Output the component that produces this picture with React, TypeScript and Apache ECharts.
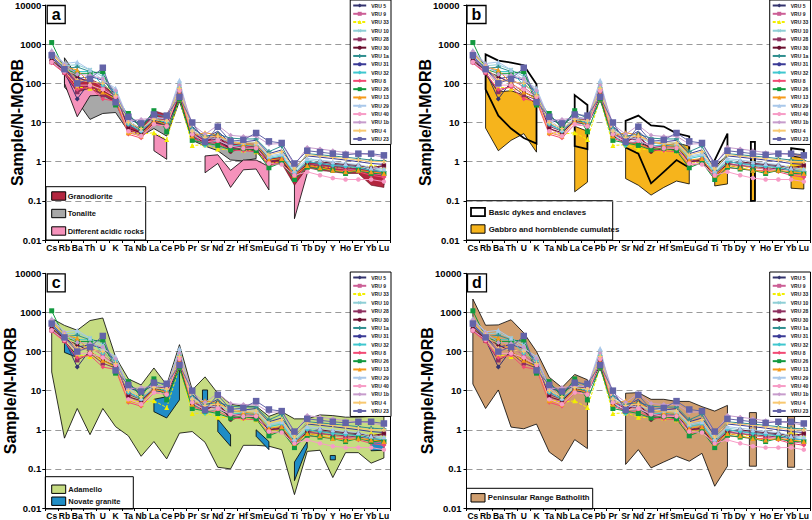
import React, { useEffect, useRef } from "react";
import * as echarts from "echarts";

const elements = ["Cs","Rb","Ba","Th","U","K","Ta","Nb","La","Ce","Pb","Pr","Sr","Nd","Zr","Hf","Sm","Eu","Gd","Ti","Tb","Dy","Y","Ho","Er","Yb","Lu"];
const yTickLabels = ["0.01", "0.1", "1", "10", "100", "1000", "10000"];
const panelTags = ["a", "b", "c", "d"];
const sampleNames = ["VRU 5","VRU 9","VRU 33","VRU 10","VRU 28","VRU 30","VRU 1a","VRU 31","VRU 32","VRU 8","VRU 26","VRU 13","VRU 29","VRU 40","VRU 1b","VRU 4","VRU 23"];

const VRU_5 = [380,200,40,110,100,50,9,6.5,10,9,37,5,4,3.5,2.2,2.6,2.5,1.0,1.2,0.45,1.0,0.9,0.85,0.8,0.75,0.6,0.55];
const VRU_9 = [450,250,110,130,80,45,7,5,12,10,70,6,3.5,4,2.5,2.5,2.2,1.0,1.1,0.5,0.9,0.8,0.7,0.65,0.6,0.5,0.45];
const VRU_33 = [400,220,80,75,60,40,6,5,5.5,3.7,40,2.6,2.7,2.1,2.0,2.0,1.8,0.9,1.0,0.45,0.8,0.75,0.7,0.7,0.7,0.8,0.75];
const VRU_10 = [600,280,300,220,150,60,10,6,13,11,100,6,3.8,4.2,3,2.8,2.8,1.3,1.5,0.55,1.1,1.0,0.9,0.85,0.8,0.65,0.6];
const VRU_28 = [350,190,60,90,50,38,8,6,12,12,55,5,3.5,4.5,2.2,2.3,2.0,1.0,1.0,0.45,0.85,0.8,0.75,0.7,0.65,0.6,0.8];
const VRU_30 = [400,210,150,100,60,42,7,5.5,11,10,45,4.5,3.0,5,1.8,2.2,2.0,1.0,1.1,0.4,0.9,1.0,0.9,0.85,0.8,0.7,0.8];
const VRU_1a = [500,240,260,200,180,50,15,8,18,13,60,7,4.5,5,4,3.8,3.8,1.8,2.5,0.6,1.6,1.5,1.4,1.3,1.2,1.1,1.05];
const VRU_31 = [450,220,130,150,120,55,12,9,14,12,50,8,4,6,3,3.2,3.5,1.6,2.0,0.7,1.4,1.3,1.2,1.1,1.0,0.9,0.85];
const VRU_32 = [480,260,200,200,90,60,9,6,12,10,80,5,2.6,3.5,2.5,2.7,2.5,1.2,1.4,0.5,1.0,0.9,0.8,0.75,0.7,0.6,0.55];
const VRU_8 = [330,180,70,80,40,35,5,4,9,8,60,4,3,3,2,1.9,1.8,0.8,0.9,0.4,0.7,0.65,0.6,0.6,0.55,0.45,0.4];
const VRU_26 = [1100,230,180,180,200,28,17,7,20,5.8,40,3.5,3.0,2.6,2.0,2.2,1.9,0.7,0.95,0.35,0.72,0.65,0.6,0.5,0.6,0.5,0.5];
const VRU_13 = [600,260,220,100,60,40,5.5,4.5,11,9,55,4.5,5.5,4.8,3.2,2.8,2.6,1.1,1.2,0.45,0.8,0.7,0.6,0.55,0.6,0.55,0.5];
const VRU_29 = [700,320,350,220,120,75,12,6.5,14,12,120,6.5,4,4,3.5,3.2,3.0,1.4,1.6,0.6,1.2,1.1,1.0,0.9,0.85,0.7,0.65];
const VRU_40 = [350,200,90,90,70,45,6,4.5,9,8,65,5,3.2,3.5,2.5,2.2,2.2,0.9,0.85,0.45,0.55,0.45,0.38,0.35,0.35,0.35,0.31];
const VRU_1b = [650,300,170,160,130,65,11,12,13,13,90,9,5,8.5,4.7,4.4,4.5,2.8,2.9,0.8,2.3,2.1,1.9,1.7,1.6,1.5,1.3];
const VRU_4 = [550,270,120,110,100,50,10,7,12,11,75,6,4.2,4.5,3.2,3.0,3.0,1.5,1.8,0.65,1.5,1.4,1.3,1.2,1.1,1.0,1.0];
const VRU_23 = [520,230,100,130,250,33,14,9.5,16,15,45,10,3.2,7.8,3.3,3.6,5.4,3.3,3.0,0.9,1.9,1.75,1.6,1.5,1.6,1.6,1.45];
const sampleValues = [VRU_5,VRU_9,VRU_33,VRU_10,VRU_28,VRU_30,VRU_1a,VRU_31,VRU_32,VRU_8,VRU_26,VRU_13,VRU_29,VRU_40,VRU_1b,VRU_4,VRU_23];

// Reference fields: each piece starts at an element; upper/lower values for consecutive elements
const tonaliteField = [
  { start: "Rb", upper: [450,150,60,60,45,10,7,12,10,50,5,4,4,2.5,2.5,2.5], lower: [80,35,12,17,18,6,4.5,7,4.5,35,3.5,2.5,1.9,1.1,1.05,1.2] },
];
const acidicField = [
  { start: "Rb", upper: [200,110,100,90,55], lower: [100,14,48,50,45] },
  { start: "La", upper: [5.2,3.5], lower: [1.9,1.15] },
  { start: "Sr", upper: [1.4,1.5,0.6,1.1,1.1,0.75], lower: [0.52,0.9,0.22,0.62,0.65,0.19] },
  { start: "Ti", upper: [0.35,0.7], lower: [0.035,0.5] },
  { start: "Yb", upper: [0.5,0.45], lower: [0.3,0.25] },
];
const granodioriteField = [
  { start: "Rb", upper: [250,120,130,90,50,9,7,20,16,60,6,4,5,3,3,3,1.2,1.3,0.5,1.0,0.9,0.8,0.75,0.7,0.6,0.55], lower: [170,60,75,50,32,6,5,9,8,40,4,3,3,2,2,1.8,0.8,0.9,0.25,0.7,0.6,0.55,0.5,0.5,0.25,0.22] },
];
const gabbroField = [
  { start: "Rb", upper: [170,60,65,50,30], lower: [7.2,1.9,3.5,5.2,1.75] },
  { start: "La", upper: [8,6], lower: [0.17,0.3] },
  { start: "Sr", upper: [3,3,2.4,2.5,3,2.5], lower: [0.37,0.25,0.14,0.22,0.32,0.27] },
  { start: "Ti", upper: [0.5,1.0], lower: [0.24,0.27] },
  { start: "Y", upper: [1.5], lower: [0.1] },
  { start: "Yb", upper: [1.6,1.5], lower: [0.21,0.2] },
];
const basicDykesField = [
  { start: "Rb", upper: [550,380,340,290,95], lower: [70,15,7,4,2.9] },
  { start: "La", upper: [50,28], lower: [2.5,2.1] },
  { start: "Sr", upper: [11,15,8.4,7.9,5.3,4.4], lower: [2.3,1.6,0.28,0.55,1.1,0.7] },
  { start: "Ti", upper: [1.1,5.2], lower: [0.7,1.45] },
  { start: "Y", upper: [3.2], lower: [0.1] },
  { start: "Yb", upper: [2.2,2.0], lower: [1.4,1.3] },
];
const adamelloField = [
  { start: "Cs",
    upper: [700,466,350,620,720,73,20,14,38,14,150,10.4,22.5,8.5,4.5,4,4,2.2,2.9,1.9,1.9,2.4,2.3,2.1,2.1,2.2,2.2],
    lower: [30,0.61,3.5,0.75,3.5,1.2,0.7,0.21,0.5,0.18,0.82,0.9,0.48,0.11,0.1,0.4,0.4,0.38,0.31,0.022,0.28,0.3,0.06,0.26,0.26,0.14,0.19] },
];
const novateField = [
  { start: "Rb", upper: [180,80], lower: [95,70] },
  { start: "La", upper: [6,7,37], lower: [2.9,2.0,5.8] },
  { start: "Sr", upper: [10.4], lower: [5.3] },
  { start: "Nd", upper: [1.87,0.75], lower: [0.9,0.38] },
  { start: "Sm", upper: [1.0,0.5], lower: [0.68,0.31] },
  { start: "Ti", upper: [0.15,0.5], lower: [0.05,0.35] },
  { start: "Y", upper: [0.22], lower: [0.17] },
  { start: "Yb", upper: [0.5,0.55], lower: [0.29,0.3] },
];
const peninsularField = [
  { start: "Cs", upper: [2200,470,480,650,300,100,22,12,26,19], lower: [14.8,3.5,10.4,1.17,1.06,1.4,0.27,0.157,0.56,0.33] },
  { start: "Sr", upper: [8.6,8.9,6,6,5.3,5.3,3.9,3.0,4.2], lower: [0.13,0.31,0.106,0.15,0.21,0.157,0.25,0.036,0.117] },
  { start: "Y", upper: [2.75], lower: [0.117] },
  { start: "Yb", upper: [5.3], lower: [0.11] },
];

const FONT = "Liberation Sans, Arial, Helvetica, sans-serif";
const PLUS = "path://M-1,-0.3L-0.3,-0.3L-0.3,-1L0.3,-1L0.3,-0.3L1,-0.3L1,0.3L0.3,0.3L0.3,1L-0.3,1L-0.3,0.3L-1,0.3Z";

const sampleStyles = [
  { color: "#34346e", symbol: "diamond", size: 5 },
  { color: "#cc5f96", symbol: "rect", size: 4.5 },
  { color: "#f2ee00", symbol: "triangle", size: 5, dash: true },
  { color: "#8fcfd6", symbol: PLUS, size: 5, rotate: 45 },
  { color: "#8e2f5f", symbol: "rect", size: 4.5 },
  { color: "#6a0f2e", symbol: "circle", size: 4 },
  { color: "#2f8f8f", symbol: PLUS, size: 5 },
  { color: "#3a3a96", symbol: "none", size: 0 },
  { color: "#3fc7cf", symbol: "diamond", size: 5 },
  { color: "#f24a74", symbol: "diamond", size: 4.5 },
  { color: "#12993f", symbol: "rect", size: 5 },
  { color: "#f59a1a", symbol: "triangle", size: 5 },
  { color: "#a9c8ea", symbol: "triangle", size: 5 },
  { color: "#f79cc6", symbol: "circle", size: 4.5 },
  { color: "#c79ccc", symbol: "diamond", size: 5 },
  { color: "#f8c870", symbol: PLUS, size: 4.5 },
  { color: "#6464a8", symbol: "rect", size: 6.5 },
];

const layout = [
  { left: 45.3, top: 5, width: 345, height: 235, nameGap: 20, labelMargin: 4, legendRight: 421, legendTop: 0, tagLeft: 46.7, tagTop: 5 },
  { left: 466.5, top: 5, width: 344.5, height: 235, nameGap: 33, labelMargin: 7, legendRight: 1.5, legendTop: 0, tagLeft: 466.5, tagTop: 5 },
  { left: 45.3, top: 273.3, width: 345, height: 235.7, nameGap: 26.5, labelMargin: 4, legendRight: 421, legendTop: 272, tagLeft: 46.7, tagTop: 273.3 },
  { left: 466.5, top: 273.3, width: 344, height: 235.7, nameGap: 31.5, labelMargin: 5, legendRight: 1.5, legendTop: 272, tagLeft: 467, tagTop: 273.3 },
];

type Piece = { start: string; upper: number[]; lower: number[] };

function fieldSeries(pieces: Piece[], gi: number, fill: string, stroke: string, lw: number, barFrac: number) {
  return {
    type: "custom",
    xAxisIndex: gi,
    yAxisIndex: gi,
    z: 1,
    silent: true,
    data: pieces.map((p) => [elements.indexOf(p.start), p.upper[0]]),
    renderItem: (params: any, api: any) => {
      const p = pieces[params.dataIndex];
      const s = elements.indexOf(p.start);
      const band = api.size([1, 0], [s, p.upper[0]])[0];
      let pts: number[][];
      if (p.upper.length === 1) {
        const t = api.coord([s, p.upper[0]]);
        const b = api.coord([s, p.lower[0]]);
        const hw = (band * barFrac) / 2;
        pts = [[t[0] - hw, t[1]], [t[0] + hw, t[1]], [b[0] + hw, b[1]], [b[0] - hw, b[1]]];
      } else {
        const up = p.upper.map((v, k) => api.coord([s + k, v]));
        const lo = p.lower.map((v, k) => api.coord([s + k, v])).reverse();
        pts = up.concat(lo);
      }
      return { type: "polygon", shape: { points: pts }, style: { fill, stroke, lineWidth: lw, lineJoin: "miter" } };
    },
  };
}

function legendBox(x: number, y: number, w: number, h: number, swX: number, txtX: number, fs: number, entries: any[]) {
  const children: any[] = [
    { type: "rect", shape: { x, y, width: w, height: h }, style: { fill: "#fff", stroke: "#000", lineWidth: 1 } },
  ];
  entries.forEach((e) => {
    children.push({ type: "rect", shape: { x: swX, y: e.cy - 4.2, width: 14, height: 8.4 }, style: { fill: e.fill, stroke: "#000", lineWidth: e.lw || 1 } });
    children.push({ type: "text", style: { x: txtX, y: e.cy, text: e.label, fill: "#111", font: `bold ${fs}px ${FONT}`, verticalAlign: "middle", align: "left" } });
  });
  return { type: "group", z: 50, children };
}

export default function App() {
  const ref = useRef<HTMLDivElement>(null);
  useEffect(() => {
    document.body.style.margin = "0";
    const chart = echarts.init(ref.current!, null, { renderer: "svg" });
    const grids = layout.map((l) => ({ left: l.left, top: l.top, width: l.width, height: l.height, containLabel: false }));
    const xAxes = layout.map((_, i) => ({
      type: "category",
      gridIndex: i,
      data: elements,
      boundaryGap: true,
      axisLine: { show: true, lineStyle: { color: "#000", width: 1 } },
      axisTick: { show: true, length: 3, lineStyle: { color: "#000" } },
      axisLabel: { interval: 0, fontSize: 8.5, fontWeight: "bold", color: "#000", margin: 3, fontFamily: FONT },
      splitLine: { show: false },
    }));
    const yLeft = layout.map((l, i) => ({
      type: "log",
      logBase: 10,
      gridIndex: i,
      min: 0.01,
      max: 10000,
      splitNumber: 6,
      name: "Sample/N-MORB",
      nameLocation: "middle",
      nameGap: l.nameGap,
      nameMoveOverlap: false,
      nameTextStyle: { fontSize: 16, fontWeight: "bold", color: "#000", fontFamily: FONT },
      axisLine: { show: true, lineStyle: { color: "#000", width: 1 } },
      axisTick: { show: true, length: 3, lineStyle: { color: "#000" } },
      axisLabel: {
        fontSize: 9.5, fontWeight: "bold", color: "#000", margin: l.labelMargin, fontFamily: FONT,
        formatter: (v: number) => yTickLabels[Math.round(Math.log10(v)) + 2] ?? "",
      },
      splitLine: { show: true, showMinLine: false, showMaxLine: false, lineStyle: { color: "#9a9a9a", width: 1.1, type: [6, 4] } },
      minorTick: { show: false },
    }));
    const yRight = layout.map((_, i) => ({
      type: "value", gridIndex: i, position: "right", min: 0, max: 1,
      axisLine: { show: true, onZero: false, lineStyle: { color: "#000", width: 1 } },
      axisTick: { show: false }, axisLabel: { show: false }, splitLine: { show: false },
    }));

    const series: any[] = [];
    series.push(fieldSeries(tonaliteField, 0, "#a8a8a8", "#000", 0.8, 0.3));
    series.push(fieldSeries(acidicField, 0, "#f592bb", "#000", 0.8, 0.3));
    series.push(fieldSeries(granodioriteField, 0, "#b3263f", "#5a0f1c", 0.6, 0.3));
    series.push(fieldSeries(gabbroField, 1, "#f6b41c", "#000", 0.8, 0.32));
    series.push(fieldSeries(basicDykesField, 1, "none", "#000", 1.8, 0.32));
    series.push(fieldSeries(adamelloField, 2, "#c6dc82", "#000", 0.8, 0.3));
    series.push(fieldSeries(novateField, 2, "#1f8dc6", "#000", 0.8, 0.4));
    series.push(fieldSeries(peninsularField, 3, "#d09f70", "#000", 0.8, 0.55));
    layout.forEach((_, gi) => {
      sampleNames.forEach((name, si) => {
        const st: any = sampleStyles[si];
        series.push({
          type: "line",
          name,
          xAxisIndex: gi,
          yAxisIndex: gi,
          data: sampleValues[si],
          symbol: st.symbol,
          symbolSize: st.size,
          symbolRotate: st.rotate || 0,
          showSymbol: st.symbol !== "none",
          z: 3,
          color: st.color,
          itemStyle: { color: st.color },
          lineStyle: { color: st.color, width: 1, type: st.dash ? [3, 1.5] : "solid" },
          emphasis: { disabled: true },
        });
      });
    });

    const legends = layout.map((l) => ({
      data: sampleNames,
      orient: "vertical",
      right: l.legendRight,
      top: l.legendTop,
      itemWidth: 13,
      itemHeight: 5,
      itemGap: 3.3,
      padding: [3, 2, 3, 2],
      borderColor: "#000",
      borderWidth: 1,
      backgroundColor: "#fff",
      selectedMode: false,
      textStyle: { fontSize: 5, fontWeight: "bold", color: "#222", fontFamily: FONT },
    }));

    const titles = layout.map((l, i) => ({
      text: panelTags[i],
      left: l.tagLeft,
      top: l.tagTop,
      padding: [1, 5, 1, 5],
      borderColor: "#000",
      borderWidth: 1.3,
      backgroundColor: "#fff",
      textStyle: { fontSize: 16, fontWeight: "bold", color: "#000", fontFamily: FONT, lineHeight: 17 },
    }));

    const graphic = [
      legendBox(46, 186.7, 99.7, 53.3, 51.7, 67.7, 7.5, [
        { label: "Granodiorite", fill: "#b3263f", cy: 196 },
        { label: "Tonalite", fill: "#a8a8a8", cy: 213.5 },
        { label: "Different acidic rocks", fill: "#f592bb", cy: 231 },
      ]),
      legendBox(466.5, 200.7, 146.2, 39.3, 471, 488.7, 7.9, [
        { label: "Basic dykes and enclaves", fill: "#fff", cy: 212, lw: 1.8 },
        { label: "Gabbro and hornblende cumulates", fill: "#f6b41c", cy: 229 },
      ]),
      legendBox(45.3, 476.7, 88, 32.3, 51.7, 68.3, 7.5, [
        { label: "Adamello", fill: "#c6dc82", cy: 489.2 },
        { label: "Novate granite", fill: "#1f8dc6", cy: 501.2 },
      ]),
      legendBox(466.5, 488.3, 126.2, 20.7, 471, 487.7, 7.8, [
        { label: "Peninsular Range Batholith", fill: "#d09f70", cy: 497.8 },
      ]),
    ];

    chart.setOption({
      animation: false,
      backgroundColor: "#fff",
      textStyle: { fontFamily: FONT },
      title: titles,
      grid: grids,
      xAxis: xAxes,
      yAxis: [...yLeft, ...yRight],
      legend: legends,
      graphic,
      series,
    });
    return () => chart.dispose();
  }, []);
  return <div ref={ref} style={{ width: 812, height: 520 }} />;
}
